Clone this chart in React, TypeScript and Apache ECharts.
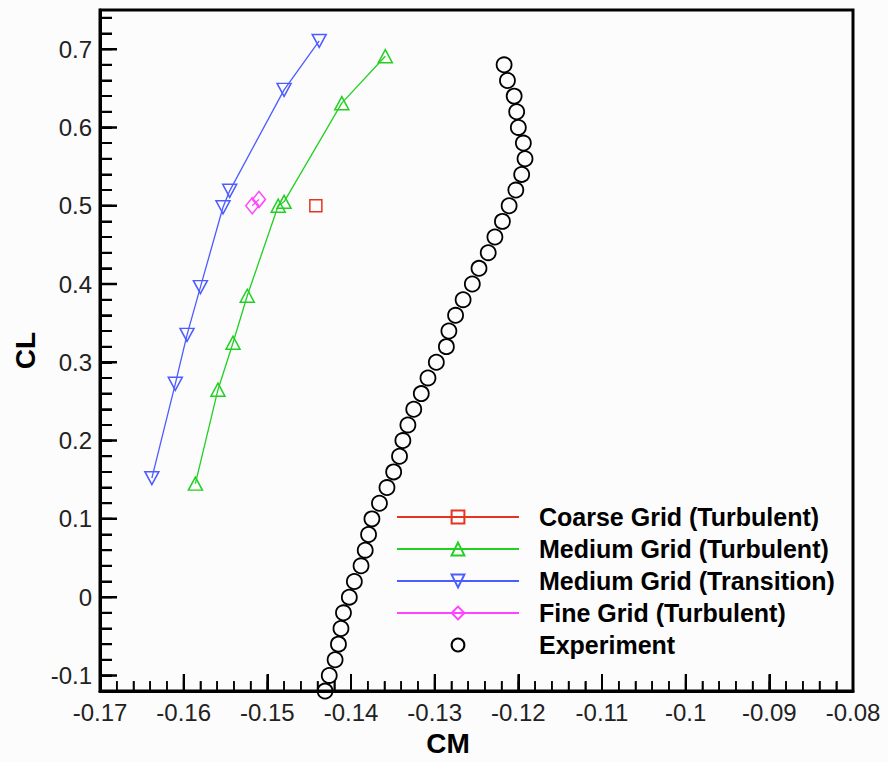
import React, { useEffect, useRef } from "react";
import * as echarts from "echarts";

// ---- Data ----
const coarseCM = [-0.1442];
const coarseCL = [0.5];

const mediumTurbCM = [-0.1586, -0.1559, -0.1541, -0.1524, -0.1487, -0.148, -0.1411, -0.1359];
const mediumTurbCL = [0.145, 0.265, 0.325, 0.385, 0.5, 0.505, 0.631, 0.691];

const mediumTransCM = [-0.1638, -0.161, -0.1596, -0.158, -0.1553, -0.1545, -0.148, -0.1438];
const mediumTransCL = [0.152, 0.2725, 0.335, 0.396, 0.498, 0.519, 0.648, 0.7105];

const fineCM = [-0.1518, -0.151];
const fineCL = [0.5, 0.508];

const expCM = [
  -0.1217, -0.1213, -0.1205, -0.1202, -0.12, -0.1194, -0.1192, -0.1196, -0.1203, -0.1211,
  -0.1219, -0.1228, -0.1236, -0.1247, -0.1255, -0.1266, -0.1275, -0.1283, -0.1286, -0.1298,
  -0.1308, -0.1316, -0.1325, -0.1332, -0.1338, -0.1342, -0.1349, -0.1357, -0.1366, -0.1375,
  -0.1379, -0.1383, -0.1388, -0.1396, -0.1402, -0.1409, -0.1412, -0.1415, -0.1419, -0.1426,
  -0.1431,
];
const expCL = [
  0.68, 0.66, 0.64, 0.62, 0.6, 0.58, 0.56, 0.54, 0.52, 0.5,
  0.48, 0.46, 0.44, 0.42, 0.4, 0.38, 0.36, 0.34, 0.32, 0.3,
  0.28, 0.26, 0.24, 0.22, 0.2, 0.18, 0.16, 0.14, 0.12, 0.1,
  0.08, 0.06, 0.04, 0.02, 0.0, -0.02, -0.04, -0.06, -0.08, -0.1,
  -0.12,
];

// ---- Axes ----
const X_MIN = -0.17;
const X_MAX = -0.08;
const Y_MIN = -0.12;
const Y_MAX = 0.75;
const xMajorTicks = [-0.17, -0.16, -0.15, -0.14, -0.13, -0.12, -0.11, -0.1, -0.09, -0.08];
const yMajorTicks = [-0.1, 0, 0.1, 0.2, 0.3, 0.4, 0.5, 0.6, 0.7];
const X_MINOR_STEP = 0.002;
const Y_MINOR_STEP = 0.02;

const seriesNames = [
  "Coarse Grid (Turbulent)",
  "Medium Grid (Turbulent)",
  "Medium Grid (Transition)",
  "Fine Grid (Turbulent)",
  "Experiment",
];

// layout
const W = 888;
const H = 762;
const GRID = { left: 100, right: 35, top: 10, bottom: 64 };

const zip = (xs: number[], ys: number[]) => xs.map((x, i) => [x, ys[i]]);
const steps = (a: number, b: number, s: number) => {
  const out: number[] = [];
  const n = Math.round((b - a) / s);
  for (let i = 0; i <= n; i++) out.push(Math.round((a + i * s) * 10000) / 10000);
  return out;
};

export default function App() {
  const ref = useRef<HTMLDivElement>(null);

  useEffect(() => {
    if (!ref.current) return;
    const chart = echarts.init(ref.current, null, { renderer: "svg" });

    const labelFont = "'Liberation Sans', Arial, sans-serif";
    const hollow = (c: string, w = 1.5) => ({ color: "rgba(0,0,0,0)", borderColor: c, borderWidth: w });

    const red = "#e63420";
    const green = "#22d022";
    const blue = "#4d5cff";
    const magenta = "#ff44ff";

    // tick marks drawn as short segments through the axis scales
    const plotW = W - GRID.left - GRID.right;
    const plotH = H - GRID.top - GRID.bottom;
    const dx = (X_MAX - X_MIN) / plotW; // data units per pixel
    const dy = (Y_MAX - Y_MIN) / plotH;
    const vTicks = (xs: number[], len: number) =>
      xs.flatMap((x) => [[x, Y_MIN], [x, Y_MIN + len * dy], ["-", "-"]]);
    const hTicks = (ys: number[], len: number) =>
      ys.flatMap((y) => [[X_MIN, y], [X_MIN + len * dx, y], ["-", "-"]]);
    const tickSeries = (data: any[], width: number) => ({
      type: "line",
      silent: true,
      clip: false,
      symbol: "none",
      connectNulls: false,
      z: 3,
      data,
      lineStyle: { color: "#000", width },
    });

    chart.setOption({
      animation: false,
      backgroundColor: "#fcfcfc",
      title: { text: "" },
      grid: {
        ...GRID,
        show: true,
        borderColor: "#000",
        borderWidth: 3,
        backgroundColor: "rgba(0,0,0,0)",
      },
      xAxis: {
        type: "value",
        min: X_MIN,
        max: X_MAX,
        interval: 0.01,
        name: "CM",
        nameLocation: "middle",
        nameGap: 34,
        nameTextStyle: {
          fontFamily: labelFont,
          fontSize: 28,
          fontWeight: "bold",
          color: "#000",
          padding: [0, 57, 0, 0],
        },
        axisLine: { show: true, onZero: false, lineStyle: { color: "#000", width: 3 } },
        axisTick: { show: true, inside: true, length: 17, lineStyle: { color: "#000", width: 2 } },
        minorTick: { show: true, splitNumber: 5, length: 10, lineStyle: { color: "#000", width: 1.5 } },
        axisLabel: {
          margin: 9,
          fontFamily: labelFont,
          fontSize: 24,
          color: "#222",
          showMinLabel: true,
          showMaxLabel: true,
        },
        splitLine: { show: false },
      },
      yAxis: [
        {
          type: "value",
          min: Y_MIN,
          max: Y_MAX,
          name: "CL",
          nameLocation: "middle",
          nameGap: 55,
          nameRotate: 90,
          nameTextStyle: {
            fontFamily: labelFont,
            fontSize: 28,
            fontWeight: "bold",
            color: "#000",
          },
          axisLine: { show: true, onZero: false, lineStyle: { color: "#000", width: 3 } },
          axisTick: { show: false },
          axisLabel: {
            margin: 8,
            fontFamily: labelFont,
            fontSize: 24,
            color: "#222",
            customValues: yMajorTicks,
            formatter: (v: number) => String(Math.round(v * 10) / 10),
          },
          splitLine: { show: false },
        },
        {
          type: "value",
          position: "left",
          min: Y_MIN,
          max: Y_MAX,
          interval: Y_MINOR_STEP,
          axisLine: { show: false, onZero: false },
          axisTick: { show: true, inside: true, length: 12, lineStyle: { color: "#000", width: 2 } },
          axisLabel: { show: false },
          splitLine: { show: false },
        },
      ],
      legend: {
        orient: "vertical",
        left: 396,
        top: 504,
        padding: 0,
        itemWidth: 122,
        itemHeight: 16,
        itemGap: 6,
        selectedMode: false,
        data: seriesNames,
        textStyle: {
          fontFamily: labelFont,
          fontSize: 25,
          fontWeight: "bold",
          color: "#000",
          lineHeight: 26,
          padding: [0, 0, 0, 15],
        },
      },
      series: [
        tickSeries(vTicks(xMajorTicks, 17), 2),
        tickSeries(vTicks(steps(X_MIN, X_MAX, X_MINOR_STEP), 10), 1.5),
        tickSeries(hTicks(yMajorTicks, 17), 2.5),
        tickSeries(hTicks(steps(Y_MIN, 0.74, Y_MINOR_STEP), 12), 2),
        {
          name: seriesNames[0],
          type: "line",
          data: zip(coarseCM, coarseCL),
          symbol: "rect",
          symbolSize: 12,
          clip: false,
          lineStyle: { color: red, width: 1.5 },
          itemStyle: hollow(red),
        },
        {
          name: seriesNames[1],
          type: "line",
          data: zip(mediumTurbCM, mediumTurbCL),
          symbol: "triangle",
          symbolSize: [14, 13],
          clip: false,
          lineStyle: { color: green, width: 1.3 },
          itemStyle: hollow(green),
        },
        {
          name: seriesNames[2],
          type: "line",
          data: zip(mediumTransCM, mediumTransCL),
          symbol: "triangle",
          symbolRotate: 180,
          symbolSize: [14, 13],
          clip: false,
          lineStyle: { color: blue, width: 1.3 },
          itemStyle: hollow(blue),
        },
        {
          name: seriesNames[3],
          type: "line",
          data: zip(fineCM, fineCL),
          symbol: "diamond",
          symbolSize: [13, 16],
          clip: false,
          lineStyle: { color: magenta, width: 1.3 },
          itemStyle: hollow(magenta),
        },
        {
          name: seriesNames[4],
          type: "line",
          data: zip(expCM, expCL),
          symbol: "circle",
          symbolSize: 15,
          clip: false,
          lineStyle: { width: 0, opacity: 0 },
          itemStyle: hollow("#000", 1.8),
        },
      ],
    });

    return () => chart.dispose();
  }, []);

  return (
    <div
      ref={ref}
      style={{ position: "absolute", left: 0, top: 0, width: W, height: H }}
    />
  );
}
